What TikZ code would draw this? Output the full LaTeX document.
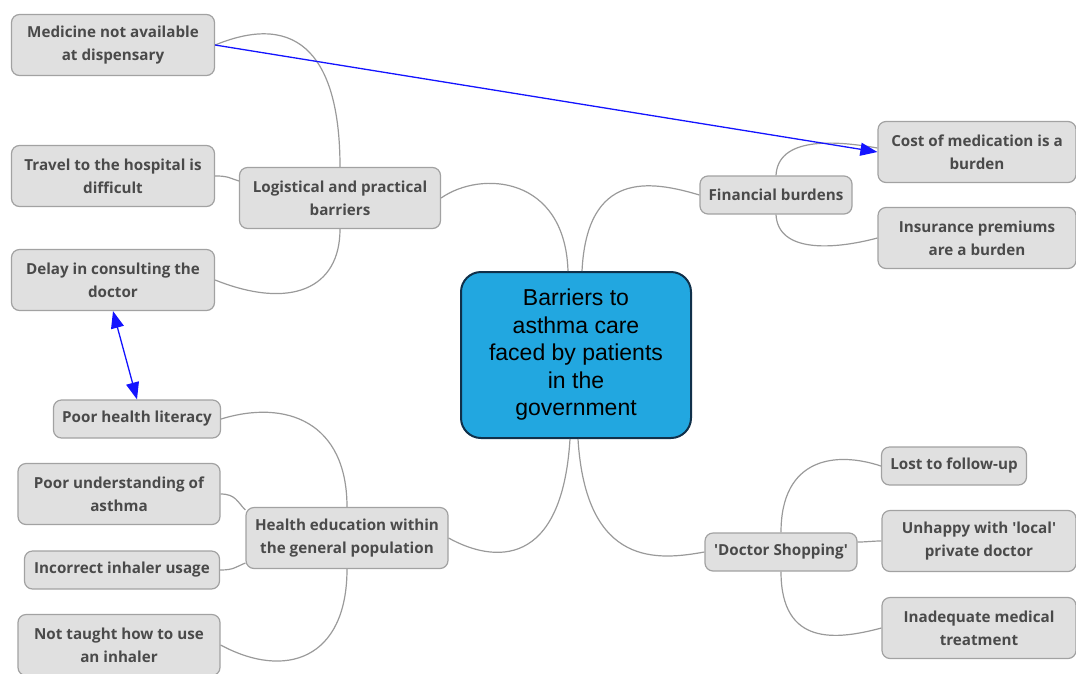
\documentclass[tikz,border=0pt]{standalone}
\usepackage{fontspec}
\usepackage{xcolor}
\usepackage{tikz}
\usetikzlibrary{arrows.meta}

\newfontfamily\mapfont{Open Sans}
\newfontfamily\hubfont{Liberation Sans}
\definecolor{boxfill}{HTML}{E0E0E0}
\definecolor{boxline}{HTML}{A2A2A2}
\definecolor{boxtext}{HTML}{4A4A4A}
\definecolor{linkgray}{HTML}{9A9A9A}
\definecolor{hubfill}{HTML}{22A7E0}
\definecolor{hubline}{HTML}{10304A}
\definecolor{relblue}{HTML}{1414FF}

\begin{document}
\begin{tikzpicture}[x=1pt, y=-1pt,
        leaf/.style={draw=boxline, fill=boxfill, rounded corners=8pt,
                     line width=1.2pt, text=boxtext, align=center,
                     font=\mapfont\bfseries\fontsize{15.2}{23}\selectfont,
                     inner sep=0pt, minimum height=61pt},
        short/.style={leaf, minimum height=38pt},
        hub/.style={draw=hubline, fill=hubfill, rounded corners=20pt,
                    line width=2pt, align=center, inner sep=0pt,
                    font=\hubfont\fontsize{23}{27.5}\selectfont,
                    minimum width=230pt, minimum height=166pt},
        link/.style={draw=linkgray, line width=1.2pt},
        rel/.style={draw=relblue, line width=1.3pt},
        >={Triangle[length=17pt, width=13pt]}
    ]
    \useasboundingbox (0,0) rectangle (1076,673);
    % Central topic
    \node[hub] (ctr) at (576,355)
        {Barriers to\\asthma care\\faced by patients\\in the\\government};
    % Main branches
    \node[leaf, minimum width=201pt] (logi) at (340,198) {Logistical and practical\\barriers};
    \node[short, minimum width=152pt] (fin) at (776,195) {Financial burdens};
    \node[leaf, minimum width=202pt] (health) at (347,538) {Health education within\\the general population};
    \node[short, minimum width=152pt] (doc) at (781,552) {'Doctor Shopping'};
    % Logistical leaves
    \node[leaf, minimum width=203pt] (med) at (113,45) {Medicine not available\\at dispensary};
    \node[leaf, minimum width=203pt] (trav) at (113,176) {Travel to the hospital is\\difficult};
    \node[leaf, minimum width=203pt] (delay) at (113,280) {Delay in consulting the\\doctor};
    % Financial leaves
    \node[leaf, minimum width=198pt] (cost) at (977,152) {Cost of medication is a\\burden};
    \node[leaf, minimum width=198pt] (ins) at (977,238) {Insurance premiums\\are a burden};
    % Health education leaves
    \node[short, minimum width=167pt] (phl) at (137,419) {Poor health literacy};
    \node[leaf, minimum width=202pt] (pu) at (119,494) {Poor understanding of\\asthma};
    \node[short, minimum width=195pt] (inc) at (122,570) {Incorrect inhaler usage};
    \node[leaf, minimum width=202pt] (nott) at (119,645) {Not taught how to use\\an inhaler};
    % Doctor shopping leaves
    \node[short, minimum width=145pt] (lost) at (954,466) {Lost to follow-up};
    \node[leaf, minimum width=194pt] (unh) at (979,541) {Unhappy with 'local'\\private doctor};
    \node[leaf, minimum width=194pt] (inad) at (979,628) {Inadequate medical\\treatment};
    % Branches from the centre
    \draw[link] ([xshift=-8pt]ctr.north) .. controls +(-3,-95) and +(40,-28) .. (logi.east);
    \draw[link] ([xshift=6pt]ctr.north) .. controls +(5,-100) and +(-50,-15) .. (fin.west);
    \draw[link] ([xshift=-6pt]ctr.south) .. controls +(-8,130) and +(45,25) .. (health.east);
    \draw[link] ([xshift=2pt]ctr.south) .. controls +(8,130) and +(-45,8) .. (doc.west);
    % Logistical links
    \draw[link] (logi.north) .. controls +(0,-108) and +(85,-35) .. (med.east);
    \draw[link] (trav.east) .. controls +(12,0) and +(-12,-4) .. ([yshift=17pt]logi.west);
    \draw[link] (logi.south) .. controls +(0,60) and +(75,30) .. (delay.east);
    % Financial links
    \draw[link] (fin.north) .. controls +(2,-38) and +(-45,-8) .. ([yshift=4pt]cost.west);
    \draw[link] (fin.south) .. controls +(2,38) and +(-45,12) .. (ins.west);
    % Health education links
    \draw[link] (health.north) .. controls +(0,-85) and +(65,-20) .. (phl.east);
    \draw[link] (pu.east) .. controls +(15,0) and +(-8,-8) .. ([yshift=28pt]health.west);
    \draw[link] (inc.east) .. controls +(14,0) and +(-10,4) .. ([yshift=-25pt]health.west);
    \draw[link] (health.south) .. controls +(0,90) and +(65,35) .. (nott.east);
    % Doctor shopping links
    \draw[link] (doc.north) .. controls +(0,-75) and +(-45,-15) .. (lost.west);
    \draw[link] ([yshift=10pt]doc.east) .. controls +(10,0) and +(-10,0) .. (unh.west);
    \draw[link] (doc.south) .. controls +(0,75) and +(-45,12) .. (inad.west);
    % Cross relations
    \draw[rel, ->] (med.east) -- (cost.west);
    \draw[rel, <->] (delay.south) -- (phl.north);
\end{tikzpicture}
\end{document}
